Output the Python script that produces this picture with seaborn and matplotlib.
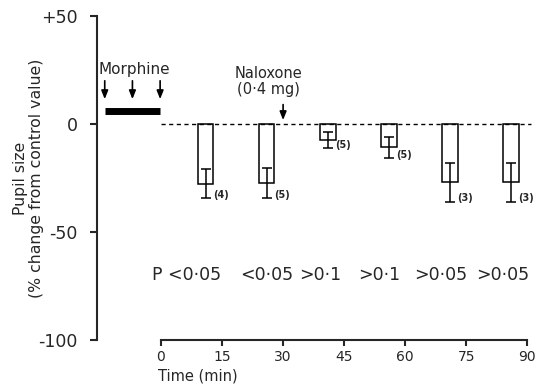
import matplotlib
matplotlib.use("Agg")
import matplotlib.pyplot as plt
import pandas as pd
import seaborn as sns

# data
times = [11, 26, 41, 56, 71, 86]
pupil_change = [-27.6, -27.3, -7.3, -10.8, -26.9, -26.9]
sem = [6.8, 6.9, 3.8, 5.0, 9.0, 9.0]
n_labels = ["(4)", "(5)", "(5)", "(5)", "(3)", "(3)"]
p_labels = ["P <0·05", "<0·05", ">0·1", ">0·1", ">0·05", ">0·05"]
p_pos = [6.4, 26.0, 39.1, 53.6, 68.8, 84.0]
morphine_times = [-13.8, -7.0, -0.2]
naloxone_time = 30
x_ticks = [0, 15, 30, 45, 60, 75, 90]
y_ticks = [-100, -50, 0, 50]
y_ticklabels = ["-100", "-50", "0", "+50"]

df = pd.DataFrame({"Time": times, "Change": pupil_change})

sns.set_style("ticks")
plt.rcParams["font.family"] = ["DejaVu Sans"]

fig = plt.figure(figsize=(5.38, 3.85), dpi=100)
ax = fig.add_axes([97 / 538, 1 - 340 / 385, (538 - 97) / 538, 324 / 385])

sns.barplot(data=df, x="Time", y="Change", native_scale=True, width=0.25,
            color="white", edgecolor="black", linewidth=1.1, saturation=1,
            errorbar=None, ax=ax)
ax.errorbar(times, pupil_change, yerr=sem, fmt="none", ecolor="black",
            elinewidth=1.1, capsize=3.5, capthick=1.1)

for t, m, s, lab in zip(times, pupil_change, sem, n_labels):
    ax.text(t + 1.8, m - s + 1.5, lab, fontsize=7, fontweight="bold",
            va="center", ha="left")

for x, lab in zip(p_pos, p_labels):
    ax.text(x, -69.9, lab, fontsize=12.5, ha="center", va="center")

# baseline
ax.plot([0, 91], [0, 0], color="black", lw=1, ls=(0, (3, 2.5)))

# morphine infusion
ax.plot([morphine_times[0], morphine_times[-1]], [6.2, 6.2], color="black",
        lw=5, solid_capstyle="butt")
for t in morphine_times:
    ax.annotate("", xy=(t, 11.5), xytext=(t, 20),
                arrowprops=dict(arrowstyle="-|>,head_width=0.2,head_length=0.5",
                                color="black", lw=1.2, shrinkA=0, shrinkB=0))
ax.text(-15.3, 25, "Morphine", fontsize=11, ha="left", va="center")

# naloxone
ax.annotate("", xy=(naloxone_time, 1.8), xytext=(naloxone_time, 9),
            arrowprops=dict(arrowstyle="-|>,head_width=0.2,head_length=0.5",
                            color="black", lw=1.2, shrinkA=0, shrinkB=0))
ax.text(26.5, 23.6, "Naloxone", fontsize=10.5, ha="center", va="center")
ax.text(26.5, 15.8, "(0·4 mg)", fontsize=10.5, ha="center", va="center")

ax.set_xlim(-15.7, 92.6)
ax.set_ylim(-100, 50)
ax.set_xticks(x_ticks)
ax.set_xticklabels([str(v) for v in x_ticks], fontsize=10)
ax.set_yticks(y_ticks)
ax.set_yticklabels(y_ticklabels, fontsize=12.5)
ax.tick_params(axis="y", length=5, width=1.5, pad=9)
ax.tick_params(axis="x", length=4, width=1.5, pad=3)

ax.set_xlabel("Time (min)", fontsize=10.5, ha="left")
ax.xaxis.set_label_coords(0.138, -0.088)
ax.set_ylabel("Pupil size\n(% change from control value)", fontsize=11.3,
              linespacing=1.05)
ax.yaxis.set_label_coords(-0.12, 0.5)

sns.despine(ax=ax)
for side in ["left", "bottom"]:
    ax.spines[side].set_linewidth(1.5)
ax.spines["bottom"].set_bounds(0, 90)

fig.savefig("out.png", dpi=100)
